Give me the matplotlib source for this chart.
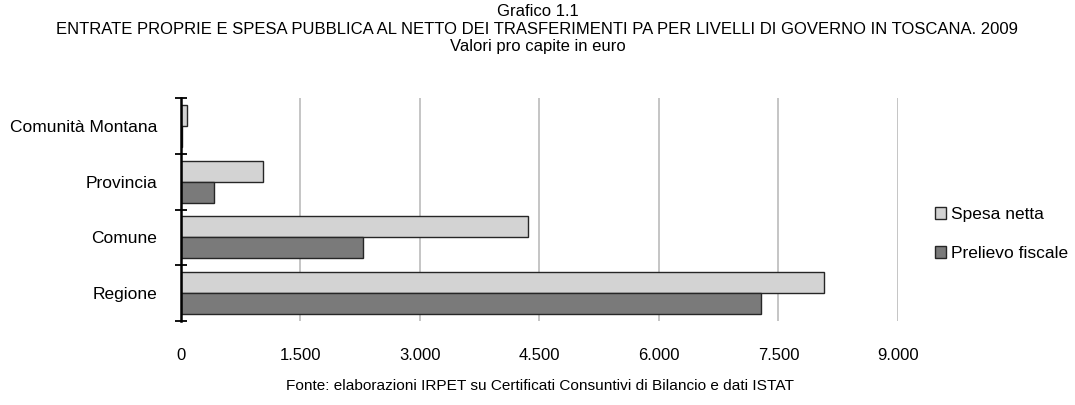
import matplotlib
matplotlib.use("Agg")
import matplotlib.pyplot as plt
import numpy as np
from matplotlib.ticker import FixedLocator, FuncFormatter

plt.rcParams['font.family'] = ['Liberation Sans Narrow', 'Liberation Sans', 'DejaVu Sans']

livelli = ["Regione", "Comune", "Provincia", "Comunità Montana"]
spesa_netta = [8066, 4359, 1037, 83]
prelievo_fiscale = [7280, 2284, 414, 12]
xticks = [0, 1500, 3000, 4500, 6000, 7500, 9000]

fig = plt.figure(figsize=(10.75, 4.05), dpi=100)
ax = fig.add_axes([180.7 / 1075, 1 - 321.3 / 405, (898 - 180.7) / 1075, (321.3 - 97.7) / 405])

y = np.arange(len(livelli))
h = 0.375
ax.barh(y + h / 2, spesa_netta, height=h, color="#d3d3d3", edgecolor="#262626", linewidth=1,
        label="Spesa netta", zorder=3)
ax.barh(y - h / 2, prelievo_fiscale, height=h, color="#7a7a7a", edgecolor="#262626", linewidth=1,
        label="Prelievo fiscale", zorder=3)

ax.set_xlim(0, 9000)
ax.set_ylim(-0.5, len(livelli) - 0.5)
ax.set_xticks(xticks)
ax.xaxis.set_major_formatter(FuncFormatter(lambda v, p: f"{int(v):,}".replace(",", ".")))
ax.tick_params(axis="x", length=0, pad=19, labelsize=12)
ax.grid(axis="x", color="#c0c0c0", linewidth=1.3, zorder=0)

ax.set_yticks(y)
ax.set_yticklabels(livelli, fontsize=12.5)
ax.yaxis.set_minor_locator(FixedLocator(np.arange(-0.5, len(livelli), 1)))
ax.tick_params(axis="y", which="major", length=0, pad=17)
ax.tick_params(axis="y", which="minor", direction="inout", length=9, width=1.3, color="black")

for s in ["top", "right", "bottom"]:
    ax.spines[s].set_visible(False)
ax.spines["left"].set_linewidth(1.8)
ax.spines["left"].set_zorder(4)

fig.text(0.5, 1 - 12 / 405, "Grafico 1.1", ha="center", va="center", fontsize=12)
fig.text(0.5, 1 - 29 / 405,
         "ENTRATE PROPRIE E SPESA PUBBLICA AL NETTO DEI TRASFERIMENTI PA PER LIVELLI DI GOVERNO IN TOSCANA. 2009",
         ha="center", va="center", fontsize=12)
fig.text(0.5, 1 - 47 / 405, "Valori pro capite in euro", ha="center", va="center", fontsize=12)
fig.text(540 / 1075, 1 - 386 / 405,
         "Fonte: elaborazioni IRPET su Certificati Consuntivi di Bilancio e dati ISTAT",
         ha="center", va="center", fontsize=11.1)

fig.legend(loc="center left", bbox_to_anchor=(919 / 1075, 1 - 234 / 405), frameon=False,
           fontsize=12.5, handlelength=0.65, handleheight=0.65, handletextpad=0.3, labelspacing=1.4)

fig.savefig("out.png", dpi=100)
